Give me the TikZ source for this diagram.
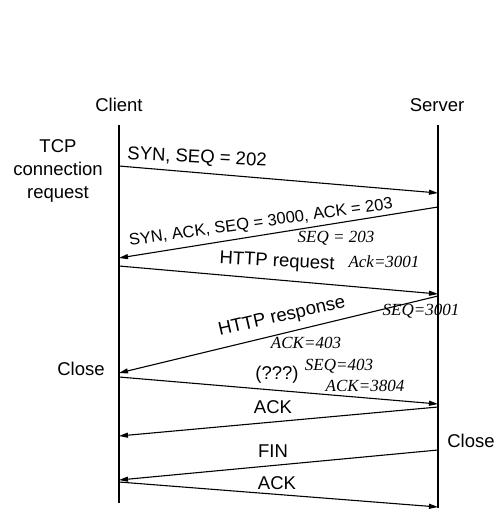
\documentclass[tikz,border=0pt]{standalone}
\usepackage{fontspec}
\setmainfont{Liberation Sans}
\newfontfamily\handfont{Liberation Serif}[ItalicFont={* Italic}]
\usetikzlibrary{arrows.meta}
\begin{document}
\begin{tikzpicture}[x=1pt,y=-1pt,
  lifeline/.style={line width=1.6pt,black},
  msg/.style={line width=1.1pt,black,-{Triangle[length=9pt,width=5pt]}},
  lbl/.style={font=\fontsize{18.5}{21}\selectfont,inner sep=0pt},
  hand/.style={font=\handfont\itshape\fontsize{17}{19}\selectfont,inner sep=0pt}]
\useasboundingbox (0,0) rectangle (495,514);
% lifelines
\coordinate (ctop) at (119,125);
\coordinate (cbot) at (119,503);
\coordinate (stop) at (438,125);
\coordinate (sbot) at (438,508);
\draw[lifeline] (ctop) -- (cbot);
\draw[lifeline] (stop) -- (sbot);
\node[lbl] (client) at (119,105) {Client};
\node[lbl] (server) at (437,105) {Server};
\node[lbl,align=center,font=\fontsize{18.5}{23}\selectfont] (tcp) at (58,171) {TCP\\connection\\request};
\node[lbl] (closec) at (81,369) {Close};
\node[lbl] (closes) at (471,441) {Close};
% message endpoints
\coordinate (c1) at (119,166); \coordinate (s1) at (438,193);
\coordinate (s2) at (438,207); \coordinate (c2) at (119,258);
\coordinate (c3) at (119,266); \coordinate (s3) at (438,294);
\coordinate (s4) at (438,296); \coordinate (c4) at (119,373);
\coordinate (c5) at (119,377); \coordinate (s5) at (438,404);
\coordinate (s6) at (438,407); \coordinate (c6) at (119,436);
\coordinate (s7) at (438,450); \coordinate (c7) at (119,480);
\coordinate (c8) at (119,482); \coordinate (s8) at (438,507);
\draw[msg] (c1) -- (s1);
\draw[msg] (s2) -- (c2);
\draw[msg] (c3) -- (s3);
\draw[msg] (s4) -- (c4);
\draw[msg] (c5) -- (s5);
\draw[msg] (s6) -- (c6);
\draw[msg] (s7) -- (c7);
\draw[msg] (c8) -- (s8);
% labels
\node[lbl,rotate=-3] (l1) at (197,158) {SYN, SEQ = 202};
\node[lbl,rotate=8,font=\fontsize{16.5}{19}\selectfont] (l2) at (261,223) {SYN, ACK, SEQ = 3000, ACK = 203};
\node[lbl,rotate=-3] (l3) at (277,262) {HTTP request};
\node[lbl,rotate=13] (l4) at (282,317) {HTTP response};
\node[lbl] (l5) at (277,375) {(???)};
\node[lbl] (l6) at (273,407) {ACK};
\node[lbl] (l7) at (273,451) {FIN};
\node[lbl] (l8) at (277,483) {ACK};
% handwritten notes
\node[hand] (h1) at (336,238) {SEQ = 203};
\node[hand] (h2) at (384,262) {Ack=3001};
\node[hand] (h3) at (421,311) {SEQ=3001};
\node[hand] (h4) at (306,343) {ACK=403};
\node[hand] (h5) at (339,366) {SEQ=403};
\node[hand] (h6) at (365,386) {ACK=3804};
\end{tikzpicture}
\end{document}
